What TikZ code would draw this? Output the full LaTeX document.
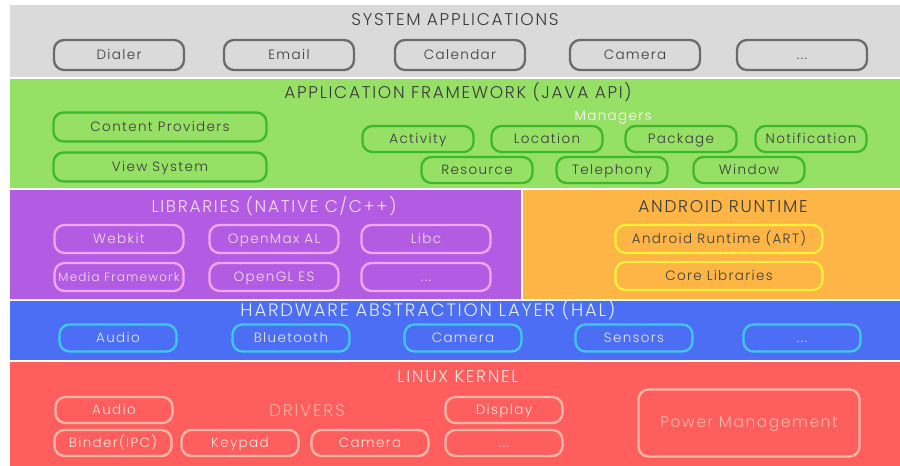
\documentclass[tikz,border=0pt]{standalone}
\usepackage{fontspec}
\setmainfont[LetterSpace=10]{Poppins Light}
\usepackage{tikz}
\usetikzlibrary{positioning}

\definecolor{appgray}{HTML}{DADADA}
\definecolor{appline}{HTML}{6B6B6B}
\definecolor{fwgreen}{HTML}{97E066}
\definecolor{fwline}{HTML}{3DB82E}
\definecolor{libpurple}{HTML}{B25CE3}
\definecolor{libline}{HTML}{F3A6F3}
\definecolor{libtext}{HTML}{F8DCF8}
\definecolor{rtorange}{HTML}{FDB545}
\definecolor{rtline}{HTML}{FFF03C}
\definecolor{halblue}{HTML}{4C6EF5}
\definecolor{halline}{HTML}{40C8F0}
\definecolor{haltext}{HTML}{E4EAFF}
\definecolor{kernred}{HTML}{FF5E5E}
\definecolor{kernline}{HTML}{FFB8A8}
\definecolor{kerntext}{HTML}{FFE6DE}
\definecolor{darktext}{HTML}{3A3A3A}

\begin{document}
\begin{tikzpicture}[x=1pt,y=-1pt,
    title/.style={font=\fontsize{17}{19}\selectfont, text height=11.9pt, text depth=0pt},
    pill/.style={rounded corners=10pt, line width=2.3pt, inner sep=0pt,
      minimum height=28pt, text height=10.5pt, text depth=2pt,
      font=\fontsize{13.5}{15}\selectfont},
    appbox/.style={pill, draw=appline, text=darktext, minimum width=130pt, minimum height=30pt},
    fwbox/.style={pill, draw=fwline, text=darktext, minimum width=111pt, minimum height=26pt},
    fwwide/.style={pill, draw=fwline, text=darktext, minimum width=213pt, minimum height=29pt},
    libbox/.style={pill, draw=libline, text=libtext, minimum width=129pt},
    rtbox/.style={pill, draw=rtline, text=darktext, minimum width=207pt},
    halbox/.style={pill, draw=halline, text=haltext, minimum width=117pt, minimum height=27pt},
    kernbox/.style={pill, draw=kernline, text=kerntext, minimum width=117pt, minimum height=26pt}
  ]
  \useasboundingbox (0,0) rectangle (900,466);
  \fill[white] (0,0) rectangle (900,466);

  % layers
  \fill[appgray] (10,5) rectangle (900,78);
  \fill[fwgreen] (10,78) rectangle (900,189);
  \fill[libpurple] (10,189) rectangle (522,300);
  \fill[rtorange] (522,189) rectangle (900,300);
  \fill[halblue] (10,300) rectangle (900,361);
  \fill[kernred] (10,361) rectangle (900,466);
  \draw[white, line width=1.2pt] (10,78) -- (900,78) (10,189) -- (900,189)
    (10,300) -- (900,300) (10,361) -- (900,361) (522,189) -- (522,300);

  % system applications
  \node[title, text=darktext] (apptitle) at (455,20) {SYSTEM APPLICATIONS};
  \node[appbox] (dialer) at (119,55) {Dialer};
  \node[appbox] (email) at (289,55) {Email};
  \node[appbox] (calendar) at (460,55) {Calendar};
  \node[appbox] (camera) at (635,55) {Camera};
  \node[appbox] (appmore) at (802,55) {...};

  % application framework
  \node[title, text=darktext] (fwtitle) at (458,93) {APPLICATION FRAMEWORK (JAVA API)};
  \node[fwwide] (providers) at (160,127) {Content Providers};
  \node[fwwide] (viewsys) at (160,167) {View System};
  \node[text=white, font=\fontsize{13.5}{15}\selectfont, text height=7pt, text depth=0pt] (managers) at (613,117) {Managers};
  \node[fwbox] (activity) at (418,139) {Activity};
  \node[fwbox] (location) at (547,139) {Location};
  \node[fwbox] (package) at (681,139) {Package};
  \node[fwbox] (notification) at (811,139) {Notification};
  \node[fwbox] (resource) at (477,170) {Resource};
  \node[fwbox] (telephony) at (612,170) {Telephony};
  \node[fwbox] (window) at (749,170) {Window};

  % native libraries
  \node[title, text=libtext] (libtitle) at (274,207) {LIBRARIES (NATIVE C/C++)};
  \node[libbox] (webkit) at (119,239) {Webkit};
  \node[libbox] (openmax) at (274,239) {OpenMax AL};
  \node[libbox] (libc) at (426,239) {Libc};
  \node[libbox, font=\fontsize{12}{14}\selectfont] (media) at (119,277) {Media Framework};
  \node[libbox] (opengl) at (274,277) {OpenGL ES};
  \node[libbox] (libmore) at (426,277) {...};

  % android runtime
  \node[title, text=darktext] (rttitle) at (723,207) {ANDROID RUNTIME};
  \node[rtbox] (art) at (719,239) {Android Runtime (ART)};
  \node[rtbox] (corelib) at (719,276) {Core Libraries};

  % hal
  \node[title, text=haltext, font=\fontsize{18}{20}\selectfont] (haltitle) at (428,311) {HARDWARE ABSTRACTION LAYER (HAL)};
  \node[halbox] (halaudio) at (118,338) {Audio};
  \node[halbox] (bluetooth) at (291,338) {Bluetooth};
  \node[halbox] (halcamera) at (463,338) {Camera};
  \node[halbox] (sensors) at (634,338) {Sensors};
  \node[halbox] (halmore) at (802,338) {...};

  % linux kernel
  \node[title, text=kerntext] (kerntitle) at (458,377) {LINUX KERNEL};
  \node[text=kernline!85!kernred, font=\fontsize{17}{19}\selectfont, text height=12pt, text depth=0pt] (drivers) at (307,410) {DRIVERS};
  \node[kernbox] (kaudio) at (114,410) {Audio};
  \node[kernbox] (display) at (504,410) {Display};
  \node[kernbox] (binder) at (113,443) {Binder(IPC)};
  \node[kernbox] (keypad) at (240,443) {Keypad};
  \node[kernbox] (kcamera) at (370,443) {Camera};
  \node[kernbox] (kmore) at (504,443) {...};
  \node[pill, draw=kernline, text=kernline, font=\fontsize{15.5}{17}\selectfont, minimum width=221pt, minimum height=67pt] (power) at (749,423) {Power Management};
\end{tikzpicture}
\end{document}
